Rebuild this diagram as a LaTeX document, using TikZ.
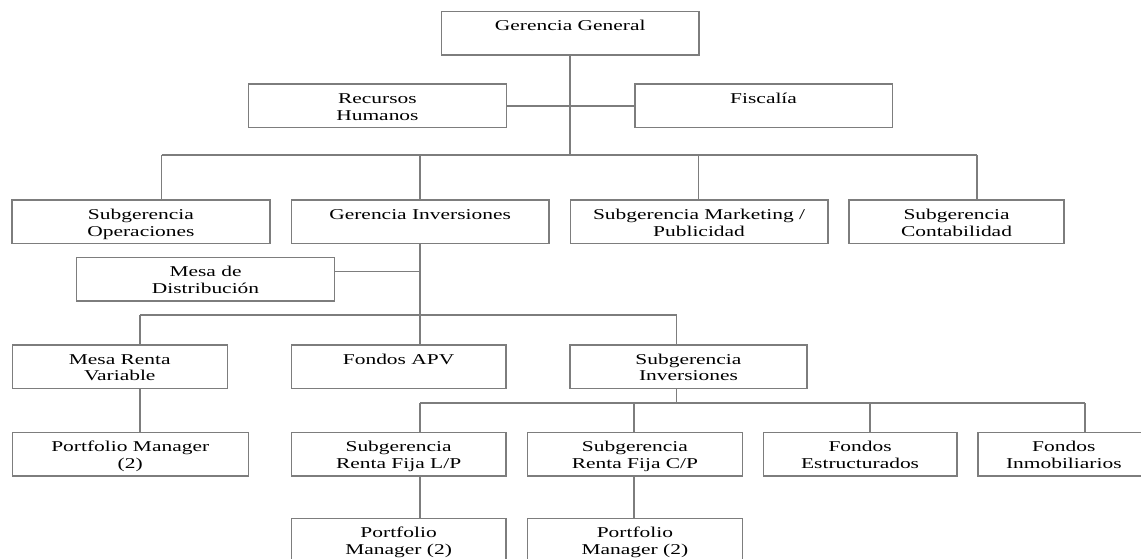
\documentclass[tikz,border=0pt]{standalone}
\usepackage{fontspec}
\newfontfamily\tnr[FakeStretch=1.43]{Liberation Serif}
\definecolor{boxgray}{RGB}{125,125,125}
\newcommand\bx[2]{\parbox[c][43.5pt][t]{#1pt}{\centering\rule{0pt}{19.5pt}#2}}
\begin{document}
\begin{tikzpicture}[x=1pt,y=-1pt,
  box/.style={draw=boxgray, line width=1.5pt, inner sep=0pt, anchor=north west,
    font=\tnr\fontsize{15}{16.7}\selectfont},
  link/.style={draw=boxgray, line width=1.4pt}]
\useasboundingbox (0,0) rectangle (1141,558);
\clip (0,0) rectangle (1141,558);
% nodes
\node[box] (gg)   at (440.7,10.7)  {\bx{257.6}{Gerencia General}};
\node[box] (rh)   at (247.8,83.3)  {\bx{257.8}{Recursos\\Humanos}};
\node[box] (fis)  at (634,83.3)    {\bx{257.7}{Fiscalía}};
\node[box] (sop)  at (11.2,199.3)  {\bx{258}{Subgerencia\\Operaciones}};
\node[box] (gin)  at (290.6,199.3) {\bx{257.6}{Gerencia Inversiones}};
\node[box] (mkt)  at (569.6,199.3) {\bx{257.4}{Subgerencia Marketing /\\Publicidad}};
\node[box] (con)  at (848.3,199.3) {\bx{215}{Subgerencia\\Contabilidad}};
\node[box] (md)   at (75.8,256.7)  {\bx{258}{Mesa de\\Distribución}};
\node[box] (mrv)  at (11.5,344)    {\bx{215}{Mesa Renta\\Variable}};
\node[box] (apv)  at (290.6,344)   {\bx{214.5}{Fondos APV}};
\node[box] (sinv) at (569.4,344)   {\bx{236.6}{Subgerencia\\Inversiones}};
\node[box] (pma)  at (11.5,431.7)  {\bx{236}{Portfolio Manager\\(2)}};
\node[box] (lp)   at (290.6,431.7) {\bx{214.5}{Subgerencia\\Renta Fija L/P}};
\node[box] (cp)   at (526.7,431.7) {\bx{215}{Subgerencia\\Renta Fija C/P}};
\node[box] (est)  at (762.7,431.7) {\bx{193.3}{Fondos\\Estructurados}};
\node[box] (inm)  at (977.3,431.7) {\bx{171.5}{Fondos\\Inmobiliarios}};
\node[box] (pmb)  at (290.6,517.7) {\bx{214.5}{Portfolio\\Manager (2)}};
\node[box] (pmc)  at (526.7,517.7) {\bx{215}{Portfolio\\Manager (2)}};
% bus coordinates
\coordinate (t0) at (570,155);
\coordinate (t1) at (161.6,155);
\coordinate (t2) at (420,155);
\coordinate (t3) at (698.3,155);
\coordinate (t4) at (977,155);
\coordinate (m0) at (420,271.7);
\coordinate (u1) at (140,315);
\coordinate (u2) at (420,315);
\coordinate (u3) at (676.7,315);
\coordinate (v1) at (420,403);
\coordinate (v2) at (634,403);
\coordinate (v3) at (870,403);
\coordinate (v4) at (1085,403);
\coordinate (w0) at (676.7,403);
% connectors
\draw[link] (gg.south -| t0) -- (t0);
\draw[link] (rh.east) -- (fis.west);
\draw[link] (t1) -- (t4);
\draw[link] (t1) -- (t1 |- sop.north);
\draw[link] (t2) -- (t2 |- gin.north);
\draw[link] (t3) -- (t3 |- mkt.north);
\draw[link] (t4) -- (t4 |- con.north);
\draw[link] (gin.south -| u2) -- (u2 |- apv.north);
\draw[link] (md.east |- m0) -- (m0);
\draw[link] (u1) -- (u3);
\draw[link] (u1) -- (u1 |- mrv.north);
\draw[link] (u3) -- (u3 |- sinv.north);
\draw[link] (sinv.south -| w0) -- (w0);
\draw[link] (v1) -- (v4);
\draw[link] (v1) -- (v1 |- lp.north);
\draw[link] (v2) -- (v2 |- cp.north);
\draw[link] (v3) -- (v3 |- est.north);
\draw[link] (v4) -- (v4 |- inm.north);
\draw[link] (mrv.south -| u1) -- (u1 |- pma.north);
\draw[link] (lp.south -| v1) -- (v1 |- pmb.north);
\draw[link] (cp.south -| v2) -- (v2 |- pmc.north);
\end{tikzpicture}
\end{document}
